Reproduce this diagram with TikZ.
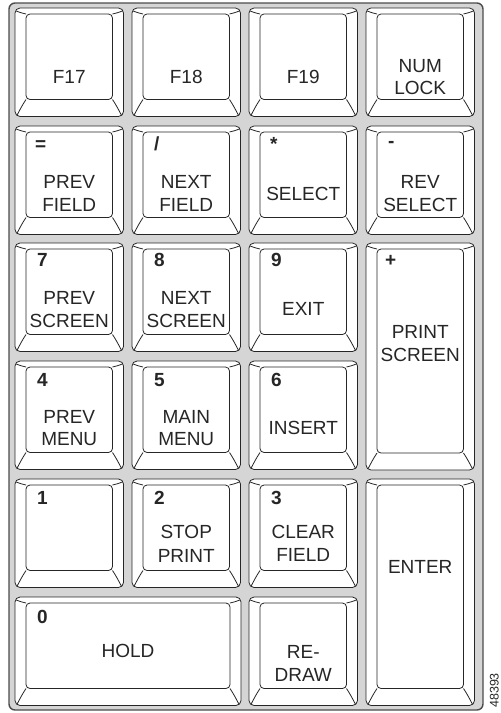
\documentclass[tikz,border=0pt]{standalone}
\usepackage{fontspec}
\setmainfont{Liberation Sans}
\definecolor{padgray}{RGB}{213,213,213}
\definecolor{keyink}{RGB}{38,38,38}
% one key cap: left, top, width, height (px)
\newcommand{\pKeyCap}[4]{%
  \draw[keyline, fill=white, rounded corners=5pt] (#1,#2) rectangle (#1+#3,#2+#4);
  \draw[keyline, rounded corners=4pt] (#1+11,#2+6) rectangle (#1+#3-11,#2+#4-17);
  \draw[keyline] (#1+1.2,#2+3) .. controls (#1+5,#2+4.5) .. (#1+11,#2+6);
  \draw[keyline] (#1+#3-1.2,#2+3) .. controls (#1+#3-5,#2+4.5) .. (#1+#3-11,#2+6);
  \draw[keyline] (#1+11,#2+#4-17) .. controls (#1+7,#2+#4-11) and (#1+4,#2+#4-5) .. (#1+2,#2+#4-1.2);
  \draw[keyline] (#1+#3-11,#2+#4-17) .. controls (#1+#3-7,#2+#4-11) and (#1+#3-4,#2+#4-5) .. (#1+#3-2,#2+#4-1.2);
}

\begin{document}
\begin{tikzpicture}[x=1pt,y=-1pt,
  keyline/.style={draw=keyink, line width=0.8pt},
  keylbl/.style={anchor=base, inner sep=0pt, font=\fontsize{19}{23}\selectfont, text=keyink},
  keynum/.style={anchor=base west, inner sep=0pt, font=\fontsize{19}{23}\selectfont\bfseries, text=keyink}]
\useasboundingbox (0,0) rectangle (501,713);
\draw[draw=black!70, line width=1.4pt, fill=padgray, rounded corners=6pt] (9,3) rectangle (483,710);
% keys
\pKeyCap{15}{8}{108.5}{108.5}
\pKeyCap{132}{8}{108.5}{108.5}
\pKeyCap{249}{8}{108.5}{108.5}
\pKeyCap{366}{8}{108.5}{108.5}
\pKeyCap{15}{126}{108.5}{108.5}
\pKeyCap{132}{126}{108.5}{108.5}
\pKeyCap{249}{126}{108.5}{108.5}
\pKeyCap{366}{126}{108.5}{108.5}
\pKeyCap{15}{243}{108.5}{108.5}
\pKeyCap{132}{243}{108.5}{108.5}
\pKeyCap{249}{243}{108.5}{108.5}
\pKeyCap{366}{243}{108.5}{227}
\pKeyCap{15}{361}{108.5}{108.5}
\pKeyCap{132}{361}{108.5}{108.5}
\pKeyCap{249}{361}{108.5}{108.5}
\pKeyCap{15}{479}{108.5}{108.5}
\pKeyCap{132}{479}{108.5}{108.5}
\pKeyCap{249}{479}{108.5}{108.5}
\pKeyCap{366}{479}{108.5}{226.5}
\pKeyCap{15}{597}{226}{108.5}
\pKeyCap{249}{597}{108.5}{108.5}
% row 1
\node[keylbl] (f17) at (69.25,83) {F17};
\node[keylbl] (f18) at (186.25,83) {F18};
\node[keylbl] (f19) at (303.25,83) {F19};
\node[keylbl] (num) at (420.25,72) {NUM};
\node[keylbl] (lock) at (420.25,94) {LOCK};
% row 2
\node[keynum] (eq) at (35,150) {=};
\node[keylbl] (prev1) at (69.25,188) {PREV};
\node[keylbl] (field1) at (69.25,211) {FIELD};
\node[keynum] (slash) at (154,150) {/};
\node[keylbl] (next1) at (186.25,188) {NEXT};
\node[keylbl] (field2) at (186.25,211) {FIELD};
\node[keynum] (star) at (270,150) {*};
\node[keylbl] (select) at (303.25,200) {SELECT};
\node[keynum] (minus) at (388,147) {-};
\node[keylbl] (rev) at (420.25,188) {REV};
\node[keylbl] (revsel) at (420.25,211) {SELECT};
% row 3
\node[keynum] (n7) at (37,266) {7};
\node[keylbl] (prev2) at (69.25,304) {PREV};
\node[keylbl] (screen1) at (69.25,327) {SCREEN};
\node[keynum] (n8) at (154,266) {8};
\node[keylbl] (next2) at (186.25,304) {NEXT};
\node[keylbl] (screen2) at (186.25,327) {SCREEN};
\node[keynum] (n9) at (271,266) {9};
\node[keylbl] (exit) at (303.25,315) {EXIT};
\node[keynum] (plus) at (385,266) {+};
\node[keylbl] (print1) at (420.25,338) {PRINT};
\node[keylbl] (screen3) at (420.25,361) {SCREEN};
% row 4
\node[keynum] (n4) at (37,386) {4};
\node[keylbl] (prev3) at (69.25,423) {PREV};
\node[keylbl] (menu1) at (69.25,445) {MENU};
\node[keynum] (n5) at (154,386) {5};
\node[keylbl] (main) at (186.25,423) {MAIN};
\node[keylbl] (menu2) at (186.25,445) {MENU};
\node[keynum] (n6) at (271,386) {6};
\node[keylbl] (insert) at (303.25,434) {INSERT};
% row 5
\node[keynum] (n1) at (37,504) {1};
\node[keynum] (n2) at (154,504) {2};
\node[keylbl] (stop) at (186.25,538) {STOP};
\node[keylbl] (print2) at (186.25,562) {PRINT};
\node[keynum] (n3) at (271,504) {3};
\node[keylbl] (clear) at (303.25,538) {CLEAR};
\node[keylbl] (field3) at (303.25,561) {FIELD};
\node[keylbl] (enter) at (420.25,573) {ENTER};
% row 6
\node[keynum] (n0) at (37,623) {0};
\node[keylbl] (hold) at (128,657) {HOLD};
\node[keylbl] (re) at (303.25,658) {RE-};
\node[keylbl] (draw) at (303.25,681) {DRAW};
\node[rotate=90, anchor=base west, inner sep=0pt, font=\fontsize{12.5}{15}\selectfont, text=keyink] (tag) at (498.5,708) {48393};
\end{tikzpicture}
\end{document}
